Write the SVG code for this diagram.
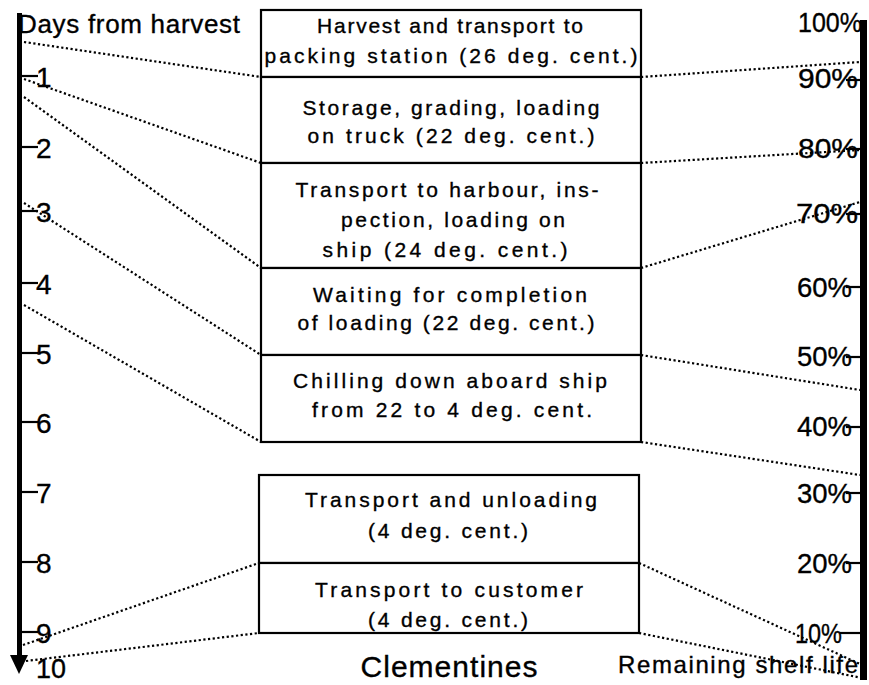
<svg xmlns="http://www.w3.org/2000/svg" width="869" height="685" viewBox="0 0 869 685">
  <style>
    text { font-family: "Liberation Sans", Arial, sans-serif; fill: #000; stroke: #000; stroke-width: 0.35; }
    .bt { font-size: 21px; text-anchor: middle; }
    .num { font-size: 28px; }
    .pct { font-size: 28px; text-anchor: end; }
    .box { fill: #fff; stroke: #000; stroke-width: 2.2; }
    .tick { stroke: #000; stroke-width: 2.2; }
    .dot { fill: none; stroke: #000; stroke-width: 2.2; stroke-dasharray: 2.2 2.5; }
  </style>
  <rect width="869" height="685" fill="#fff"/>

  <!-- connectors: days axis -> stage boundaries -> remaining shelf life -->
  <g id="connectors">
    <line class="dot" x1="24" y1="42" x2="261" y2="77"/>
    <line class="dot" x1="24" y1="79" x2="261" y2="163"/>
    <line class="dot" x1="24" y1="97" x2="261" y2="268"/>
    <line class="dot" x1="24" y1="203" x2="261" y2="355"/>
    <line class="dot" x1="24" y1="305" x2="261" y2="442"/>
    <line class="dot" x1="23" y1="645" x2="259" y2="563"/>
    <line class="dot" x1="26" y1="661" x2="259" y2="633"/>

    <line class="dot" x1="641" y1="77" x2="860" y2="62"/>
    <line class="dot" x1="641" y1="163" x2="860" y2="150"/>
    <line class="dot" x1="641" y1="268" x2="860" y2="202"/>
    <line class="dot" x1="641" y1="355" x2="860" y2="390"/>
    <line class="dot" x1="641" y1="442" x2="860" y2="475"/>
    <line class="dot" x1="639" y1="563" x2="860" y2="664"/>
    <line class="dot" x1="639" y1="633" x2="862" y2="678"/>
  </g>

  <!-- left axis: days from harvest -->
  <g id="days-axis">
    <rect x="17" y="13" width="5" height="644"/>
    <polygon points="10,655 28,655 19,674"/>
    <text x="18" y="33" font-size="26" textLength="222" lengthAdjust="spacing">Days from harvest</text>
    <line class="tick" x1="21" y1="76" x2="38" y2="76"/>
    <line class="tick" x1="21" y1="147" x2="38" y2="147"/>
    <line class="tick" x1="21" y1="211" x2="38" y2="211"/>
    <line class="tick" x1="21" y1="283" x2="38" y2="283"/>
    <line class="tick" x1="21" y1="353" x2="38" y2="353"/>
    <line class="tick" x1="21" y1="422" x2="38" y2="422"/>
    <line class="tick" x1="21" y1="492" x2="38" y2="492"/>
    <line class="tick" x1="21" y1="562" x2="38" y2="562"/>
    <line class="tick" x1="21" y1="632" x2="38" y2="632"/>
    <text class="num" x="36" y="87">1</text>
    <text class="num" x="36" y="158">2</text>
    <text class="num" x="36" y="222">3</text>
    <text class="num" x="36" y="294">4</text>
    <text class="num" x="36" y="364">5</text>
    <text class="num" x="36" y="433">6</text>
    <text class="num" x="36" y="503">7</text>
    <text class="num" x="36" y="573">8</text>
    <text class="num" x="36" y="643">9</text>
    <text class="num" x="36" y="678" textLength="30" lengthAdjust="spacingAndGlyphs">10</text>
  </g>

  <!-- right axis: remaining shelf life -->
  <g id="shelf-axis">
    <rect x="860" y="20" width="7" height="660"/>
    <line class="tick" x1="846" y1="80" x2="861" y2="80"/>
    <line class="tick" x1="846" y1="149" x2="861" y2="149"/>
    <line class="tick" x1="846" y1="214" x2="861" y2="214"/>
    <line class="tick" x1="846" y1="287" x2="861" y2="287"/>
    <line class="tick" x1="846" y1="357" x2="861" y2="357"/>
    <line class="tick" x1="846" y1="427" x2="861" y2="427"/>
    <line class="tick" x1="846" y1="493" x2="861" y2="493"/>
    <line class="tick" x1="846" y1="563" x2="861" y2="563"/>
    <line class="tick" x1="840" y1="633" x2="861" y2="633"/>
    <text class="pct" x="862" y="32" textLength="64" lengthAdjust="spacingAndGlyphs">100%</text>
    <text class="pct" x="858" y="88" textLength="60" lengthAdjust="spacingAndGlyphs">90%</text>
    <text class="pct" x="858" y="158" textLength="60" lengthAdjust="spacingAndGlyphs">80%</text>
    <text class="pct" x="858" y="223" textLength="62" lengthAdjust="spacingAndGlyphs">70%</text>
    <text class="pct" x="852" y="297" textLength="55" lengthAdjust="spacingAndGlyphs">60%</text>
    <text class="pct" x="852" y="366" textLength="55" lengthAdjust="spacingAndGlyphs">50%</text>
    <text class="pct" x="852" y="436" textLength="55" lengthAdjust="spacingAndGlyphs">40%</text>
    <text class="pct" x="852" y="503" textLength="55" lengthAdjust="spacingAndGlyphs">30%</text>
    <text class="pct" x="852" y="573" textLength="55" lengthAdjust="spacingAndGlyphs">20%</text>
    <text class="pct" x="842" y="643" textLength="47" lengthAdjust="spacingAndGlyphs">10%</text>
    <text x="618" y="673" font-size="24" textLength="240" lengthAdjust="spacing">Remaining shelf life</text>
  </g>

  <!-- stages, top group -->
  <g id="stage-harvest">
    <rect class="box" x="261" y="10" width="380" height="67"/>
    <text class="bt" x="450" y="33" textLength="266" lengthAdjust="spacing">Harvest and transport to</text>
    <text class="bt" x="451" y="63" textLength="373" lengthAdjust="spacing">packing station (26 deg. cent.)</text>
  </g>
  <g id="stage-storage">
    <rect class="box" x="261" y="77" width="380" height="86"/>
    <text class="bt" x="451" y="115" textLength="297" lengthAdjust="spacing">Storage, grading, loading</text>
    <text class="bt" x="451" y="143" textLength="287" lengthAdjust="spacing">on truck (22 deg. cent.)</text>
  </g>
  <g id="stage-harbour">
    <rect class="box" x="261" y="163" width="380" height="105"/>
    <text class="bt" x="447" y="197" textLength="303" lengthAdjust="spacing">Transport to harbour, ins-</text>
    <text class="bt" x="453" y="227" textLength="224" lengthAdjust="spacing">pection, loading on</text>
    <text class="bt" x="445" y="257" textLength="245" lengthAdjust="spacing">ship (24 deg. cent.)</text>
  </g>
  <g id="stage-waiting">
    <rect class="box" x="261" y="268" width="380" height="87"/>
    <text class="bt" x="450" y="302" textLength="274" lengthAdjust="spacing">Waiting for completion</text>
    <text class="bt" x="446" y="330" textLength="297" lengthAdjust="spacing">of loading (22 deg. cent.)</text>
  </g>
  <g id="stage-chilling">
    <rect class="box" x="261" y="355" width="380" height="87"/>
    <text class="bt" x="450" y="388" textLength="314" lengthAdjust="spacing">Chilling down aboard ship</text>
    <text class="bt" x="452" y="417" textLength="280" lengthAdjust="spacing">from 22 to 4 deg. cent.</text>
  </g>

  <!-- stages, bottom group -->
  <g id="stage-unloading">
    <rect class="box" x="259" y="475" width="380" height="88"/>
    <text class="bt" x="451" y="507" textLength="292" lengthAdjust="spacing">Transport and unloading</text>
    <text class="bt" x="448" y="538" textLength="160" lengthAdjust="spacing">(4 deg. cent.)</text>
  </g>
  <g id="stage-customer">
    <rect class="box" x="259" y="563" width="380" height="70"/>
    <text class="bt" x="449" y="597" textLength="268" lengthAdjust="spacing">Transport to customer</text>
    <text class="bt" x="448" y="627" textLength="160" lengthAdjust="spacing">(4 deg. cent.)</text>
  </g>

  <text x="449" y="677" font-size="30" text-anchor="middle" textLength="177" lengthAdjust="spacing">Clementines</text>
</svg>
